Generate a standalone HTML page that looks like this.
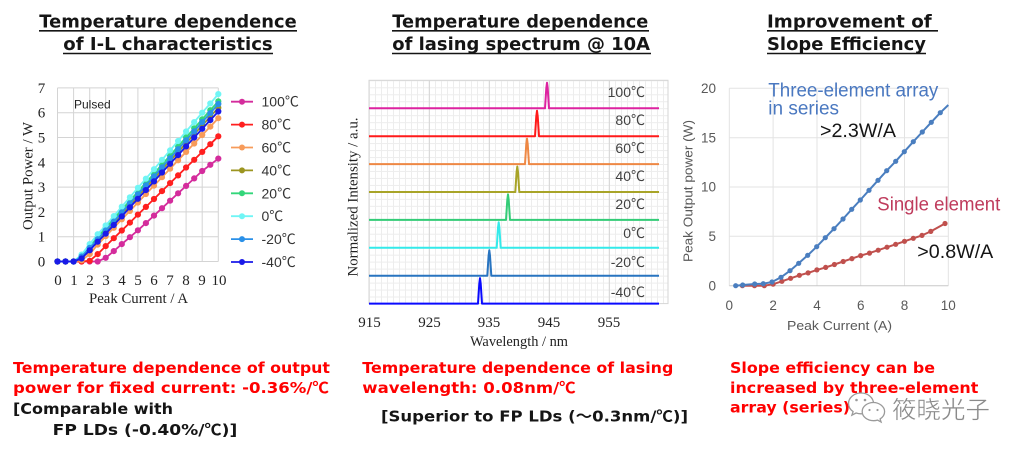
<!DOCTYPE html>
<html><head><meta charset="utf-8">
<style>
html,body{margin:0;padding:0;background:#fff;}
svg{display:block;}
.tt{font-family:"DejaVu Sans","Liberation Sans","Noto Sans CJK JP",sans-serif;font-weight:bold;font-size:18px;fill:#151515;}
.bt{font-family:"DejaVu Sans","Liberation Sans","Noto Sans CJK JP",sans-serif;font-weight:bold;font-size:15.5px;}
.sf{font-family:"Liberation Serif","Noto Serif CJK SC",serif;font-size:15px;fill:#222;}
.ss{font-family:"Liberation Sans","Noto Sans CJK JP",sans-serif;}
.cj{font-family:"Noto Sans CJK JP","Liberation Sans",sans-serif;}
</style></head>
<body>
<svg width="1024" height="454" viewBox="0 0 1024 454" xmlns="http://www.w3.org/2000/svg">
<defs>
  <marker id="c1" markerWidth="8" markerHeight="8" refX="4" refY="4" markerUnits="userSpaceOnUse"><circle cx="4" cy="4" r="3.1" fill="#d42c9c"/></marker>
  <marker id="c2" markerWidth="8" markerHeight="8" refX="4" refY="4" markerUnits="userSpaceOnUse"><circle cx="4" cy="4" r="3.1" fill="#ff1f1f"/></marker>
  <marker id="c3" markerWidth="8" markerHeight="8" refX="4" refY="4" markerUnits="userSpaceOnUse"><circle cx="4" cy="4" r="3.1" fill="#f79b5a"/></marker>
  <marker id="c4" markerWidth="8" markerHeight="8" refX="4" refY="4" markerUnits="userSpaceOnUse"><circle cx="4" cy="4" r="3.1" fill="#9c9520"/></marker>
  <marker id="c5" markerWidth="8" markerHeight="8" refX="4" refY="4" markerUnits="userSpaceOnUse"><circle cx="4" cy="4" r="3.1" fill="#33d67a"/></marker>
  <marker id="c6" markerWidth="8" markerHeight="8" refX="4" refY="4" markerUnits="userSpaceOnUse"><circle cx="4" cy="4" r="3.1" fill="#70f5f5"/></marker>
  <marker id="c7" markerWidth="8" markerHeight="8" refX="4" refY="4" markerUnits="userSpaceOnUse"><circle cx="4" cy="4" r="3.1" fill="#2a90e8"/></marker>
  <marker id="c8" markerWidth="8" markerHeight="8" refX="4" refY="4" markerUnits="userSpaceOnUse"><circle cx="4" cy="4" r="3.1" fill="#1a1ae8"/></marker>
  <marker id="mb" markerWidth="8" markerHeight="8" refX="4" refY="4" markerUnits="userSpaceOnUse"><circle cx="4" cy="4" r="2.6" fill="#4a7ebf"/></marker>
  <marker id="mr" markerWidth="8" markerHeight="8" refX="4" refY="4" markerUnits="userSpaceOnUse"><circle cx="4" cy="4" r="2.6" fill="#c0504d"/></marker>
  <pattern id="g2" x="369" y="80.3" width="6" height="6.975" patternUnits="userSpaceOnUse">
    <path d="M0.5 0V6.975M0 0.5H6" stroke="#ededed" stroke-width="1" fill="none"/>
  </pattern>
</defs>

<!-- ===== Titles ===== -->
<text class="tt" x="39.3" y="27.5" textLength="257.4" lengthAdjust="spacingAndGlyphs">Temperature dependence</text>
<line x1="39" y1="30.8" x2="297" y2="30.8" stroke="#151515" stroke-width="1.6"/>
<text class="tt" x="63.3" y="50" textLength="209.4" lengthAdjust="spacingAndGlyphs">of I-L characteristics</text>
<line x1="63" y1="53.5" x2="273" y2="53.5" stroke="#151515" stroke-width="1.6"/>

<text class="tt" x="392.3" y="27.5" textLength="256" lengthAdjust="spacingAndGlyphs">Temperature dependence</text>
<line x1="392" y1="30.8" x2="649" y2="30.8" stroke="#151515" stroke-width="1.6"/>
<text class="tt" x="392.3" y="50" textLength="257.7" lengthAdjust="spacingAndGlyphs">of lasing spectrum @ 10A</text>
<line x1="392" y1="53.5" x2="651" y2="53.5" stroke="#151515" stroke-width="1.6"/>

<text class="tt" x="767" y="27.5" textLength="164.7" lengthAdjust="spacingAndGlyphs">Improvement of</text>
<line x1="767" y1="30.8" x2="938" y2="30.8" stroke="#151515" stroke-width="1.6"/>
<text class="tt" x="767" y="50" textLength="159" lengthAdjust="spacingAndGlyphs">Slope Efficiency</text>
<line x1="767" y1="53.5" x2="926" y2="53.5" stroke="#151515" stroke-width="1.6"/>

<!-- ===== Chart 1 ===== -->
<rect x="57.5" y="87.9" width="160.8" height="173.6" fill="#fff"/>
<g stroke="#d4d4d4" stroke-width="1" fill="none">
  <path d="M57.5 87.9V261.5M73.6 87.9V261.5M89.7 87.9V261.5M105.7 87.9V261.5M121.8 87.9V261.5M137.9 87.9V261.5M154 87.9V261.5M170.1 87.9V261.5M186.1 87.9V261.5M202.2 87.9V261.5M218.3 87.9V261.5"/>
  <path d="M57.5 261.5H218.3M57.5 236.7H218.3M57.5 211.9H218.3M57.5 187.1H218.3M57.5 162.3H218.3M57.5 137.5H218.3M57.5 112.7H218.3M57.5 87.9H218.3"/>
</g>
<text class="ss" x="74" y="108.5" font-size="12" fill="#222">Pulsed</text>

<g fill="none" stroke-width="1.8">
<polyline stroke="#d42c9c" marker-start="url(#c1)" marker-mid="url(#c1)" marker-end="url(#c1)" points="57.5,261.5 65.5,261.5 73.6,261.5 81.6,261.5 89.7,261.5 97.7,261.5 105.7,257.8 113.8,251.1 121.8,244.1 129.9,237.2 137.9,230.3 145.9,223.1 154,215.6 162,208.2 170.1,200.7 178.1,193.3 186.1,185.9 194.2,178.4 202.2,171 210.3,164.8 218.3,158.6"/>
<polyline stroke="#ff1f1f" marker-start="url(#c2)" marker-mid="url(#c2)" marker-end="url(#c2)" points="57.5,261.5 65.5,261.5 73.6,261.5 81.6,261.5 89.7,260.8 97.7,254.1 105.7,246.1 113.8,238.2 121.8,230.5 129.9,222.6 137.9,214.6 145.9,206.9 154,199 162,191.1 170.1,183.1 178.1,175.4 186.1,167.5 194.2,159.8 202.2,151.9 210.3,144.2 218.3,136.3"/>
<polyline stroke="#f79b5a" marker-start="url(#c3)" marker-mid="url(#c3)" marker-end="url(#c3)" points="57.5,261.5 65.5,261.5 73.6,261.5 81.6,260.3 89.7,254.1 97.7,244.6 105.7,236.2 113.8,227.8 121.8,219.3 129.9,210.9 137.9,202.5 145.9,194 154,185.6 162,177.2 170.1,168.7 178.1,160.3 186.1,151.9 194.2,143.5 202.2,135 210.3,126.6 218.3,118.2"/>
<polyline stroke="#9c9520" marker-start="url(#c4)" marker-mid="url(#c4)" marker-end="url(#c4)" points="57.5,261.5 65.5,261.5 73.6,261.5 81.6,258.5 89.7,249.6 97.7,240.4 105.7,231.7 113.8,222.8 121.8,214.1 129.9,205.2 137.9,196.3 145.9,187.3 154,178.7 162,169.7 170.1,160.8 178.1,152.1 186.1,143.2 194.2,134.3 202.2,125.4 210.3,116.7 218.3,107.7"/>
<polyline stroke="#33d67a" marker-start="url(#c5)" marker-mid="url(#c5)" marker-end="url(#c5)" points="57.5,261.5 65.5,261.5 73.6,261.5 81.6,257 89.7,247.1 97.7,237.2 105.7,228 113.8,218.8 121.8,209.9 129.9,200.7 137.9,191.8 145.9,182.6 154,173.7 162,164.5 170.1,155.6 178.1,146.4 186.1,137.5 194.2,128.3 202.2,119.4 210.3,110.2 218.3,101.3"/>
<polyline stroke="#70f5f5" marker-start="url(#c6)" marker-mid="url(#c6)" marker-end="url(#c6)" points="57.5,261.5 65.5,261.5 73.6,261.5 81.6,254.6 89.7,244.1 97.7,234.2 105.7,225.5 113.8,216.1 121.8,206.7 129.9,197.3 137.9,187.8 145.9,178.7 154,169.2 162,159.8 170.1,150.4 178.1,141 186.1,131.5 194.2,122.1 202.2,112.7 210.3,103.5 218.3,94.1"/>
<polyline stroke="#2a90e8" marker-start="url(#c7)" marker-mid="url(#c7)" marker-end="url(#c7)" points="57.5,261.5 65.5,261.5 73.6,261.5 81.6,256.5 89.7,247.9 97.7,239.2 105.7,230.5 113.8,221.6 121.8,212.4 129.9,203.5 137.9,194.3 145.9,185.4 154,176.4 162,167.3 170.1,158.3 178.1,149.2 186.1,140.2 194.2,131.3 202.2,122.1 210.3,113.2 218.3,104"/>
<polyline stroke="#1a1ae8" marker-start="url(#c8)" marker-mid="url(#c8)" marker-end="url(#c8)" points="57.5,261.5 65.5,261.5 73.6,261.5 81.6,258.5 89.7,250.3 97.7,241.7 105.7,233.7 113.8,225 121.8,216.4 129.9,207.4 137.9,198.8 145.9,190.1 154,181.4 162,172.5 170.1,163.8 178.1,155.1 186.1,146.4 194.2,137.5 202.2,128.8 210.3,120.1 218.3,111.5"/>
</g>

<!-- chart1 axes labels -->
<g class="sf" text-anchor="middle">
  <text x="41.5" y="266.5">0</text><text x="41.5" y="241.7">1</text><text x="41.5" y="216.9">2</text><text x="41.5" y="192.1">3</text>
  <text x="41.5" y="167.3">4</text><text x="41.5" y="142.5">5</text><text x="41.5" y="117.7">6</text><text x="41.5" y="92.9">7</text>
  <text x="58" y="285">0</text><text x="74" y="285">1</text><text x="90" y="285">2</text><text x="106" y="285">3</text>
  <text x="122" y="285">4</text><text x="138" y="285">5</text><text x="154" y="285">6</text><text x="170" y="285">7</text>
  <text x="186" y="285">8</text><text x="202" y="285">9</text><text x="219" y="285">10</text>
  <text x="138.5" y="303" textLength="99" lengthAdjust="spacingAndGlyphs">Peak Current / A</text>
  <text transform="translate(32.5,176) rotate(-90)" x="0" y="0" textLength="108" lengthAdjust="spacingAndGlyphs">Output Power  / W</text>
</g>

<!-- chart1 legend -->
<g stroke-width="1.8">
  <line x1="231" y1="101.7" x2="253" y2="101.7" stroke="#d42c9c"/><circle cx="242" cy="101.7" r="3" fill="#d42c9c"/>
  <line x1="231" y1="124.6" x2="253" y2="124.6" stroke="#ff1f1f"/><circle cx="242" cy="124.6" r="3" fill="#ff1f1f"/>
  <line x1="231" y1="147.5" x2="253" y2="147.5" stroke="#f79b5a"/><circle cx="242" cy="147.5" r="3" fill="#f79b5a"/>
  <line x1="231" y1="170.4" x2="253" y2="170.4" stroke="#9c9520"/><circle cx="242" cy="170.4" r="3" fill="#9c9520"/>
  <line x1="231" y1="193.3" x2="253" y2="193.3" stroke="#33d67a"/><circle cx="242" cy="193.3" r="3" fill="#33d67a"/>
  <line x1="231" y1="216.2" x2="253" y2="216.2" stroke="#70f5f5"/><circle cx="242" cy="216.2" r="3" fill="#70f5f5"/>
  <line x1="231" y1="239.1" x2="253" y2="239.1" stroke="#2a90e8"/><circle cx="242" cy="239.1" r="3" fill="#2a90e8"/>
  <line x1="231" y1="262" x2="253" y2="262" stroke="#1a1ae8"/><circle cx="242" cy="262" r="3" fill="#1a1ae8"/>
</g>
<g class="ss" font-size="14" fill="#333">
  <text x="261.5" y="106.7">100<tspan class="cj">℃</tspan></text>
  <text x="261.5" y="129.6">80<tspan class="cj">℃</tspan></text>
  <text x="261.5" y="152.5">60<tspan class="cj">℃</tspan></text>
  <text x="261.5" y="175.4">40<tspan class="cj">℃</tspan></text>
  <text x="261.5" y="198.3">20<tspan class="cj">℃</tspan></text>
  <text x="261.5" y="221.2">0<tspan class="cj">℃</tspan></text>
  <text x="261.5" y="244.1">-20<tspan class="cj">℃</tspan></text>
  <text x="261.5" y="267">-40<tspan class="cj">℃</tspan></text>
</g>

<!-- ===== Chart 2 ===== -->
<rect x="369" y="80.3" width="299" height="223.3" fill="#fff"/>
<rect x="369" y="80.3" width="299" height="223.3" fill="url(#g2)"/>
<g stroke="#d6d6d6" stroke-width="1">
  <path d="M429.3 80.3V303.6M489.3 80.3V303.6M549.3 80.3V303.6M609.3 80.3V303.6"/>
  <rect x="369" y="80.3" width="299" height="223.3" fill="none"/>
</g>
<g fill="none" stroke-width="2" stroke-linejoin="round">
  <path stroke="#dd22a0" d="M369 108.3H545L546.3 88.3L547 82.8L547.7 88.3L549 108.3H659"/>
  <path stroke="#ff1a1a" d="M369 136.2H535L536.3 116.2L537 110.7L537.7 116.2L539 136.2H659"/>
  <path stroke="#ee8844" d="M369 164.1H525L526.3 144.1L527 138.6L527.7 144.1L529 164.1H659"/>
  <path stroke="#a8a428" d="M369 192H515.3L516.6 172L517.3 166.5L518 172L519.3 192H659"/>
  <path stroke="#33cc77" d="M369 219.9H506L507.3 199.9L508 194.4L508.7 199.9L510 219.9H659"/>
  <path stroke="#33eaea" d="M369 247.8H496.7L498 227.8L498.7 222.3L499.4 227.8L500.7 247.8H659"/>
  <path stroke="#2874c0" d="M369 275.7H487.3L488.6 255.7L489.3 250.2L490 255.7L491.3 275.7H659"/>
  <path stroke="#0a0aff" d="M369 303.6H478L479.3 283.6L480 278.1L480.7 283.6L482 303.6H659"/>
</g>
<g class="ss" font-size="14" fill="#404040" text-anchor="end">
  <text x="645" y="97">100<tspan class="cj">℃</tspan></text>
  <text x="645" y="125">80<tspan class="cj">℃</tspan></text>
  <text x="645" y="153">60<tspan class="cj">℃</tspan></text>
  <text x="645" y="181">40<tspan class="cj">℃</tspan></text>
  <text x="645" y="209">20<tspan class="cj">℃</tspan></text>
  <text x="645" y="238">0<tspan class="cj">℃</tspan></text>
  <text x="645" y="267">-20<tspan class="cj">℃</tspan></text>
  <text x="645" y="297">-40<tspan class="cj">℃</tspan></text>
</g>
<g class="sf" text-anchor="middle">
  <text x="369.5" y="327">915</text><text x="429.5" y="327">925</text><text x="489" y="327">935</text>
  <text x="549" y="327">945</text><text x="609" y="327">955</text>
  <text x="519" y="346" textLength="98" lengthAdjust="spacingAndGlyphs">Wavelength / nm</text>
  <text transform="translate(357.5,197) rotate(-90)" x="0" y="0" textLength="159" lengthAdjust="spacingAndGlyphs">Normalized  Intensity / a.u.</text>
</g>

<!-- ===== Chart 3 ===== -->
<g stroke="#e3e3e3" stroke-width="1">
  <path d="M729.3 88.3V285.7M773.1 88.3V285.7M817 88.3V285.7M860.7 88.3V285.7M904.5 88.3V285.7M948.3 88.3V285.7"/>
  <path d="M729.3 88.3H948.3M729.3 137.7H948.3M729.3 187H948.3M729.3 236.3H948.3"/>
</g>
<line x1="729.3" y1="285.7" x2="948.3" y2="285.7" stroke="#c8c8c8" stroke-width="1"/>
<g fill="none" stroke-width="2" stroke-linejoin="round">
<polyline stroke="#c0504d" marker-start="url(#mr)" marker-mid="url(#mr)" marker-end="url(#mr)" points="742.4,285.7 754.5,285.7 764.3,285.7 773.1,284.2 781.9,281.3 790.6,278.3 799.4,275.3 808.1,272.9 816.9,269.9 825.7,267.4 834.4,264.5 843.2,261.5 851.9,258.6 860.7,255.6 869.5,253.1 878.2,250.2 887,247.2 895.7,244.3 904.5,241.3 913.3,238.3 922,235.4 930.8,231.4 945,223.5"/>
<polyline stroke="#4a7ebf" marker-start="url(#mb)" marker-mid="url(#mb)" marker-end="url(#mb)" points="735.7,285.7 742.7,285 754.7,284 763.3,283.7 772,282 781,277.3 790,270.7 798.7,263.3 807.7,255.3 816.7,246.7 825.3,237.7 834,228.7 843,219 851.7,209.3 860.3,200 869,190.3 878,180.3 886.7,170.7 895.7,161.3 904.3,151.7 913.3,141.7 922.3,132 931.3,122.3 940.3,112.7"/>
<line x1="940.3" y1="112.7" x2="948.3" y2="105" stroke="#4a7ebf"/>
</g>
<g class="ss" font-size="13.5" fill="#595959">
  <g text-anchor="end">
    <text x="716" y="290.5">0</text><text x="716" y="241">5</text><text x="716" y="191.7">10</text>
    <text x="716" y="142.4">15</text><text x="716" y="93">20</text>
  </g>
  <g text-anchor="middle">
    <text x="729.3" y="310">0</text><text x="773.1" y="310">2</text><text x="817" y="310">4</text>
    <text x="860.7" y="310">6</text><text x="904.5" y="310">8</text><text x="948.3" y="310">10</text>
    <text x="839.5" y="330" font-size="13" textLength="105" lengthAdjust="spacingAndGlyphs">Peak Current (A)</text>
    <text transform="translate(692.5,191) rotate(-90)" x="0" y="0" font-size="13" textLength="142" lengthAdjust="spacingAndGlyphs">Peak Output power (W)</text>
  </g>
</g>
<g class="ss" font-size="19">
  <text x="768.3" y="96.5" fill="#4a78c0" textLength="170" lengthAdjust="spacingAndGlyphs">Three-element array</text>
  <text x="768.3" y="114.5" fill="#4a78c0">in series</text>
  <text x="820" y="137" fill="#151515" textLength="76" lengthAdjust="spacingAndGlyphs">&gt;2.3W/A</text>
  <text x="877.3" y="210.5" fill="#bf3b5c" textLength="123" lengthAdjust="spacingAndGlyphs">Single element</text>
  <text x="917.3" y="258" fill="#151515" textLength="76" lengthAdjust="spacingAndGlyphs">&gt;0.8W/A</text>
</g>

<!-- ===== Bottom texts ===== -->
<g class="bt">
  <text x="13" y="373" fill="#ff0000" textLength="317" lengthAdjust="spacingAndGlyphs">Temperature dependence of output</text>
  <text x="13" y="393" fill="#ff0000" textLength="316" lengthAdjust="spacingAndGlyphs">power for fixed current: -0.36%/<tspan class="cj">℃</tspan></text>
  <text x="13" y="414" fill="#151515" textLength="160" lengthAdjust="spacingAndGlyphs">[Comparable with</text>
  <text x="52.7" y="435" fill="#151515" textLength="184.6" lengthAdjust="spacingAndGlyphs">FP LDs (-0.40%/<tspan class="cj">℃</tspan>)]</text>

  <text x="362.3" y="373" fill="#ff0000" textLength="311" lengthAdjust="spacingAndGlyphs">Temperature dependence of lasing</text>
  <text x="362.3" y="393" fill="#ff0000" textLength="213.4" lengthAdjust="spacingAndGlyphs">wavelength: 0.08nm/<tspan class="cj">℃</tspan></text>
  <text x="381" y="421.5" fill="#151515" textLength="307" lengthAdjust="spacingAndGlyphs">[Superior to FP LDs (～0.3nm/<tspan class="cj">℃</tspan>)]</text>

  <text x="730" y="373" fill="#ff0000" textLength="205" lengthAdjust="spacingAndGlyphs">Slope efficiency can be</text>
  <text x="730" y="393" fill="#ff0000" textLength="248.3" lengthAdjust="spacingAndGlyphs">increased by three-element</text>
  <text x="730" y="412.5" fill="#ff0000" textLength="120" lengthAdjust="spacingAndGlyphs">array (series)</text>
</g>

<!-- watermark -->
<g stroke="#9a9a9a" stroke-width="1.3" fill="#ffffff">
  <path d="M861 393c-7 0-12.5 4.7-12.5 10.5c0 3.3 1.8 6.2 4.6 8.1l-1.2 3.6l4.2-2.2c1.6 0.5 3.2 0.8 4.9 0.8c7 0 12.5-4.7 12.5-10.3c0-5.8-5.5-10.5-12.5-10.5z" fill="#fff"/>
  <path d="M873.5 402.5c-6.3 0-11.3 4.1-11.3 9.1s5 9.1 11.3 9.1c1.4 0 2.7-0.2 4-0.6l3.6 1.9l-1-3.1c2.7-1.7 4.5-4.3 4.5-7.3c0-5-5.5-9.1-11.1-9.1z" fill="#fff"/>
</g>
<g fill="#9a9a9a">
  <circle cx="856.5" cy="400" r="1.3"/><circle cx="865" cy="400" r="1.3"/>
  <circle cx="869.5" cy="410" r="1.1"/><circle cx="877.5" cy="410" r="1.1"/>
</g>
<text x="892" y="418" font-family="'Noto Sans CJK SC','WenQuanYi Zen Hei',sans-serif" font-size="24" fill="#8a8a8a" stroke="#ffffff" stroke-width="0.4" textLength="98" lengthAdjust="spacingAndGlyphs">筱晓光子</text>
</svg>
</body></html>
